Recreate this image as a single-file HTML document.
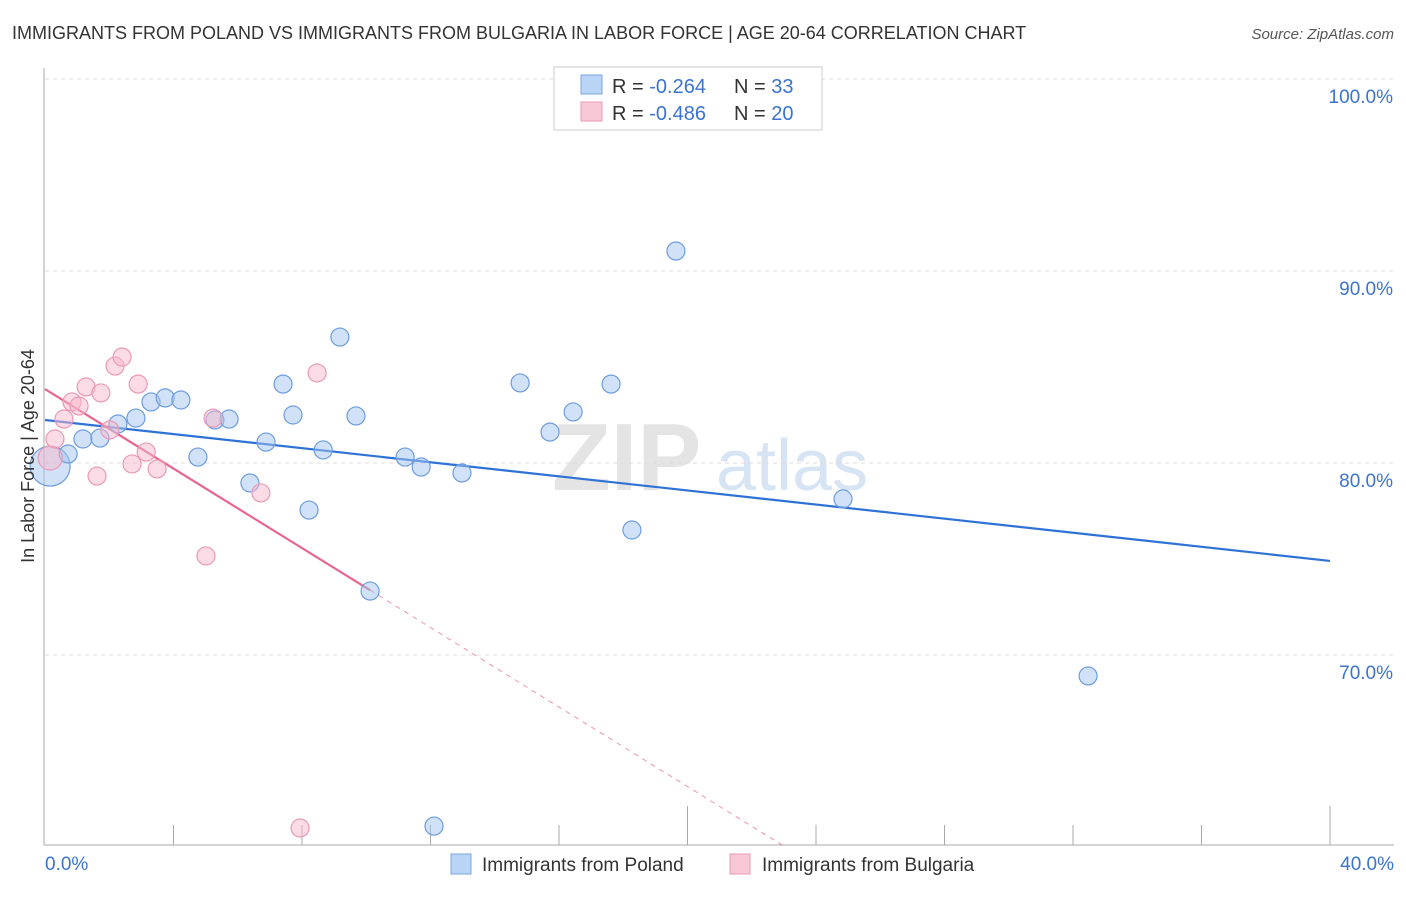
<!DOCTYPE html>
<html><head><meta charset="utf-8"><style>
body{margin:0;background:#fff;font-family:"Liberation Sans",sans-serif;}
svg text{font-family:"Liberation Sans",sans-serif;}
</style></head><body>
<svg id="chart" width="1406" height="892" xmlns="http://www.w3.org/2000/svg">
<text x="12" y="39" font-size="18" fill="#333">IMMIGRANTS FROM POLAND VS IMMIGRANTS FROM BULGARIA IN LABOR FORCE | AGE 20-64 CORRELATION CHART</text>
<text x="1394" y="39" font-size="15" fill="#555" font-style="italic" text-anchor="end">Source: ZipAtlas.com</text>
<g>
<text x="552" y="490" font-size="96" fill="#e4e4e4" font-family="Liberation Serif, serif" font-weight="bold">ZIP</text>
<text x="716" y="490" font-size="72" fill="#d6e4f4">atlas</text>
</g>
<g id="grid"></g>
<g id="axes"></g>
<g id="trends"></g>
<g id="points"></g>
<text transform="translate(34,456) rotate(-90)" font-size="18" fill="#333" text-anchor="middle">In Labor Force | Age 20-64</text>
<g>
<rect x="554" y="67" width="268" height="63" fill="#fff" stroke="#ccc"/>
<rect x="581" y="75" width="21" height="19" fill="#b9d4f5" stroke="#7aa6de"/>
<rect x="581" y="102" width="21" height="19" fill="#f9c8d7" stroke="#eb99b3"/>
<text x="612" y="93" font-size="20" fill="#333">R = <tspan fill="#3a74d0">-0.264</tspan></text>
<text x="734" y="93" font-size="20" fill="#333">N = <tspan fill="#3a74d0">33</tspan></text>
<text x="612" y="120" font-size="20" fill="#333">R = <tspan fill="#3a74d0">-0.486</tspan></text>
<text x="734" y="120" font-size="20" fill="#333">N = <tspan fill="#3a74d0">20</tspan></text>
</g>
<g>
<rect x="451" y="854" width="20" height="20" fill="#b9d4f5" stroke="#7aa6de"/>
<text x="482" y="871" font-size="19" fill="#333">Immigrants from Poland</text>
<rect x="730" y="854" width="20" height="20" fill="#f9c8d7" stroke="#eb99b3"/>
<text x="762" y="871" font-size="19" fill="#333">Immigrants from Bulgaria</text>
</g>
</svg>
<script>
const polandX=[0.16,0.72,1.18,1.71,2.27,2.83,3.30,3.74,4.23,4.76,5.29,5.73,6.38,6.88,7.41,7.72,8.22,8.66,9.18,9.68,11.21,11.71,12.98,14.79,15.72,16.44,17.62,18.27,19.64,24.84,32.47,12.11,10.12];
const polandY=[79.84,80.47,81.25,81.30,82.03,82.34,83.18,83.39,83.28,80.31,82.24,82.29,78.96,81.09,84.11,82.50,77.55,80.68,86.56,82.45,80.31,79.79,79.48,84.17,81.61,82.66,84.11,76.51,91.04,78.13,68.91,61.09,73.33];
const bulgariaX=[0.16,0.31,0.59,0.84,1.06,1.28,1.74,1.62,2.02,2.18,2.40,2.71,2.90,3.15,3.49,5.01,5.23,6.72,8.47,7.94];
const bulgariaY=[80.26,81.25,82.29,83.18,82.97,83.96,83.65,79.32,81.72,85.05,85.52,79.95,84.11,80.57,79.69,75.16,82.34,78.44,84.69,60.99];
const polandTrend=[82.24,-0.1835];
const bulgariaTrend=[83.85,-1.035];
const yTicks=[100,90,80,70];
const yTickLabels=["100.0%","90.0%","80.0%","70.0%"];
const xTickLabels=["0.0%","40.0%"];
const NS="http://www.w3.org/2000/svg";
const xs=v=>45+v/40*1285;
const ys=v=>79+(100-v)*19.2;
function mk(tag,attrs,parent){const e=document.createElementNS(NS,tag);for(const k in attrs)e.setAttribute(k,attrs[k]);parent.appendChild(e);return e;}
const grid=document.getElementById('grid'),axes=document.getElementById('axes'),tr=document.getElementById('trends'),pts=document.getElementById('points');
yTicks.forEach((t,i)=>{
 const l=mk('line',{x1:45,x2:1394,y1:ys(t),y2:ys(t),stroke:'#ddd','stroke-dasharray':'4,4'},grid);
 
 
 const tx=mk('text',{x:1393,y:ys(t)+24,'font-size':19,fill:'#3a74d0','text-anchor':'end'},axes);
 tx.textContent=yTickLabels[i];
 
 
});
const ax=mk('line',{x1:44,x2:44,y1:68,y2:845,stroke:'#aaa'},axes);


const bx=mk('line',{x1:44,x2:1394,y1:845,y2:845,stroke:'#aaa'},axes);


for(let i=1;i<=10;i++){
 const v=i*4;const big=(i==5||i==10);
 const t=mk('line',{x1:xs(v),x2:xs(v),y1:big?806:825,y2:845,stroke:'#aaa'},axes);
 
 
}
[[0,'start',45],[40,'end',1394]].forEach((d,i)=>{
 const tx=mk('text',{x:d[2],y:870,'font-size':19,fill:'#3a74d0','text-anchor':d[1]},axes);
 tx.textContent=xTickLabels[i];
 
 
});
// trends
let l1=mk('line',{x1:xs(0),y1:ys(polandTrend[0]),x2:xs(40),y2:ys(polandTrend[0]+polandTrend[1]*40),stroke:'#2f72d6','stroke-width':2.2},tr);


const bEnd=10.12;
let l2=mk('line',{x1:xs(0),y1:ys(bulgariaTrend[0]),x2:xs(bEnd),y2:ys(bulgariaTrend[0]+bulgariaTrend[1]*bEnd),stroke:'#e7658f','stroke-width':2.2},tr);


const xEnd=(60-bulgariaTrend[0])/bulgariaTrend[1];
let l3=mk('line',{x1:xs(bEnd),y1:ys(bulgariaTrend[0]+bulgariaTrend[1]*bEnd),x2:xs(xEnd),y2:ys(60),stroke:'#e7658f','stroke-width':1,'stroke-dasharray':'5,5',opacity:0.7},tr);


polandX.forEach((x,i)=>{
 const c=mk('circle',{cx:xs(x),cy:ys(polandY[i]),r:i==0?20:9,fill:'rgba(164,196,240,0.5)',stroke:'#6d9de0','stroke-width':1.2},pts);
 
 
});
bulgariaX.forEach((x,i)=>{
 const c=mk('circle',{cx:xs(x),cy:ys(bulgariaY[i]),r:i==0?12:9,fill:'rgba(248,184,204,0.5)',stroke:'#ea9ab4','stroke-width':1.2},pts);
 
 
});
</script>
</body></html>
